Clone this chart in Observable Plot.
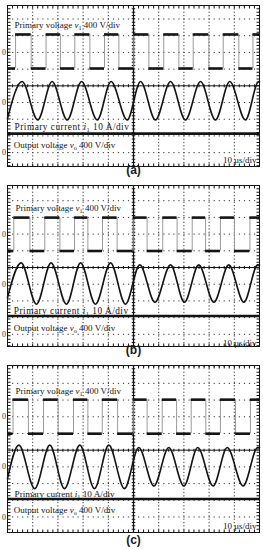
<!DOCTYPE html>
<html><head><meta charset="utf-8">
<script src="https://cdn.jsdelivr.net/npm/d3@7"></script>
<script src="https://cdn.jsdelivr.net/npm/@observablehq/plot@0.6"></script>
<style>
body{margin:0;background:#fff;width:263px;overflow:hidden;}
#chart svg{display:block;}
</style>
</head><body><div id="chart"></div>
<script>
// ---------- DATA ----------
const panelLabels = ["(a)", "(b)", "(c)"];
// time axis: 10 µs/div, 10 divisions
const timeDomain = [0, 100];
// primary voltage v1: switching instants (µs); the trace starts low
const vEdgesA = [3.2, 9.4, 15.3, 21.0, 26.7, 32.7, 38.5, 44.2, 50.1, 56.1, 62.0, 68.0, 73.7, 79.9, 85.6, 91.8, 97.4];
const vEdgesB = [2.5, 8.9, 14.8, 20.8, 26.6, 31.9, 37.7, 43.5, 49.9, 55.4, 61.6, 67.3, 73.3, 78.6, 84.5, 90.1, 96.2];
const vEdgesC = [2.2, 8.3, 14.3, 20.1, 26.2, 31.9, 37.6, 43.7, 49.9, 55.4, 61.4, 67.1, 72.9, 78.7, 84.5, 90.5, 96.4];
const vHigh = [430, 395, 410];   // V
const vLow = [-385, -405, -405]; // V
// primary current i1: extremes (µs, A)
const iTimesA = [0, 5.8, 12.0, 17.7, 23.7, 29.4, 35.6, 41.1, 47.5, 52.8, 58.7, 64.7, 70.6, 76.6, 82.5, 88.2, 94.4, 99.7, 100];
const iValsA = [-9.6, 12.6, -10.4, 12.6, -10.4, 12.6, -10.4, 12.6, -10.4, 12.6, -10.4, 12.6, -10.4, 12.6, -10.4, 12.6, -10.4, 12.6, 12.5];
const iTimesB = [0, 5.4, 11.5, 17.3, 23.4, 29.0, 34.9, 40.9, 46.8, 52.5, 58.5, 64.7, 70.2, 75.9, 81.9, 87.8, 93.8, 99.3, 100];
const iValsB = [-8, 12.8, -12.0, 12.8, -12.0, 12.8, -12.0, 12.8, -12.0, 11.6, -10.8, 11.6, -10.8, 11.6, -10.8, 11.6, -10.8, 11.6, 11.5];
const iTimesC = [0, 4.5, 10.8, 16.8, 22.6, 28.7, 34.5, 40.2, 46.4, 52.1, 58.1, 64.0, 70.0, 75.5, 81.6, 87.2, 93.5, 99.3, 100];
const iValsC = [-7, 13, -13, 13, -13, 13, -13, 13, -13, 11.6, -11.4, 11.6, -11.4, 11.6, -11.4, 11.6, -11.4, 11.6, 11.5];
// output voltage vo (V)
const voOut = [455, 440, 430];
// channel settings
const chZero = [2, -1, -4];      // ground markers (div) for v1, i1, vo
const voltsPerDiv = 400, ampsPerDiv = 10;
// texts
const labelTexts = ["Primary voltage v_1 400 V/div", "Primary current i_1 10 A/div", "Output voltage v_o 400 V/div", "10 μs/div"];

// ---------- LAYOUT ----------
const layout = [
  {yDomain: [-4.83, 4.81], height: 180, top: 5, bottom: 14, capDy: 7.5,
   lab: [[2.8, 3.62], [2.8, -2.45], [2.5, -3.56], [98.8, -4.46]], fs: [9, 9.3, 9, 9], ls: [0, 0.5, 0, 0]},
  {yDomain: [-4.73, 4.91], height: 180, top: 5, bottom: 14, capDy: 7.5,
   lab: [[3.2, 3.58], [2.5, -2.63], [2.5, -3.6], [98.8, -4.5]], fs: [9, 9.3, 9, 9], ls: [0, 0.5, 0, 0]},
  {yDomain: [-4.93, 5.07], height: 190, top: 5, bottom: 18, capDy: 11,
   lab: [[3.2, 3.52], [2.8, -2.62], [2.5, -3.58], [98.8, -4.56]], fs: [9, 9.2, 9, 9], ls: [0, 0, 0, 0]}
];
const vEdges = [vEdgesA, vEdgesB, vEdgesC];
const iTimes = [iTimesA, iTimesB, iTimesC];
const iVals = [iValsA, iValsB, iValsC];

const ink = "#141414";
const vy = v => chZero[0] + v / voltsPerDiv;
const iy = a => chZero[1] + a / ampsPerDiv;
const oy = v => chZero[2] + v / voltsPerDiv;

function styleLabels(svg, L) {
  d3.select(svg).selectAll("text").each(function() {
    const s = this.textContent;
    const k = labelTexts.indexOf(s);
    if (k >= 0 && L.ls[k]) this.setAttribute("letter-spacing", L.ls[k]);
    const m = s.match(/^(.*?)(\S)_(\S)(.*)$/);
    if (!m) return;
    const el = d3.select(this);
    el.selectAll("*").remove();
    el.text(null);
    el.append("tspan").text(m[1]);
    el.append("tspan").attr("font-style", "italic").text(m[2]);
    el.append("tspan").attr("font-size", "0.68em").attr("dy", "2").text(m[3]);
    el.append("tspan").attr("dy", "-2").text(m[4]);
  });
}

const root = document.getElementById("chart");
layout.forEach((L, p) => {
  const edges = vEdges[p];
  const bounds = [timeDomain[0], ...edges, timeDomain[1]];
  const segs = [];
  for (let k = 0; k < bounds.length - 1; k++) {
    segs.push({x1: bounds[k], x2: bounds[k + 1], v: k % 2 === 0 ? vLow[p] : vHigh[p]});
  }
  const cur = iTimes[p].map((t, k) => ({t, a: iVals[p][k]}));
  const [ylo, yhi] = L.yDomain;
  const gridY = d3.range(Math.ceil(ylo), Math.floor(yhi) + 1).filter(d => d !== 0 && d > ylo + 0.05 && d < yhi - 0.05);
  const gridX = [10, 20, 30, 40, 60, 70, 80, 90];
  const labs = labelTexts.map((text, k) => ({text, x: L.lab[k][0], y: L.lab[k][1], fs: L.fs[k], end: k === 3}));

  const svg = Plot.plot({
    width: 263, height: L.height,
    marginTop: L.top, marginBottom: L.bottom, marginLeft: 7, marginRight: 4,
    x: {domain: timeDomain, axis: null},
    y: {domain: L.yDomain, axis: null},
    style: {background: "#fff", fontFamily: "'Liberation Serif', serif", overflow: "visible"},
    marks: [
      // dotted graticule
      Plot.ruleY(gridY, {stroke: "#333", strokeWidth: 1, strokeDasharray: "1.2,3.84"}),
      Plot.ruleX(gridX, {stroke: "#333", strokeWidth: 1, strokeDasharray: "1.2,2.14"}),
      // centre lines with minor ticks
      Plot.ruleY([0], {stroke: ink, strokeWidth: 1}),
      Plot.ruleY([0], {stroke: ink, strokeWidth: 3, strokeDasharray: "1,4.04"}),
      Plot.ruleX([50], {stroke: ink, strokeWidth: 1.3}),
      Plot.ruleX([50], {stroke: ink, strokeWidth: 3.5, strokeDasharray: "1,2.34"}),
      // border ticks
      Plot.ruleY([yhi], {stroke: ink, strokeWidth: 3, dy: 1.5, strokeDasharray: "1,4.04"}),
      Plot.ruleY([ylo], {stroke: ink, strokeWidth: 3, dy: -1.5, strokeDasharray: "1,4.04"}),
      Plot.ruleX([timeDomain[0]], {stroke: ink, strokeWidth: 3, dx: 1.5, strokeDasharray: "1,2.34"}),
      Plot.ruleX([timeDomain[1]], {stroke: ink, strokeWidth: 3, dx: -1.5, strokeDasharray: "1,2.34"}),
      Plot.frame({stroke: ink, strokeWidth: 1}),
      // primary voltage: gray edges, thick flat parts
      Plot.ruleX(edges, {x: d => d, y1: vy(vLow[p]), y2: vy(vHigh[p]), stroke: "#9a9a9a", strokeWidth: 1}),
      Plot.ruleY(segs, {x1: "x1", x2: "x2", y: d => vy(d.v), stroke: ink, strokeWidth: 2.6}),
      // primary current
      Plot.line(cur, {x: "t", y: d => iy(d.a), curve: "monotone-x", stroke: ink, strokeWidth: 1.6}),
      // output voltage
      Plot.ruleY([voOut[p]], {y: d => oy(d), stroke: ink, strokeWidth: 2.6}),
      // ground markers
      Plot.text(chZero, {y: d => d, frameAnchor: "left", text: () => "0", textAnchor: "end", dx: -1.5, fontSize: 8, fill: "#333"}),
      // channel labels
      Plot.text(labs.filter(d => !d.end), {x: "x", y: "y", text: "text", textAnchor: "start", fontSize: "fs", fill: ink}),
      Plot.text(labs.filter(d => d.end), {x: "x", y: "y", text: "text", textAnchor: "end", fontSize: "fs", fill: ink}),
      // sub-figure caption
      Plot.text([panelLabels[p]], {frameAnchor: "bottom", dy: L.capDy, text: d => d, fontSize: 12, fontWeight: "bold", fontFamily: "'Liberation Sans', sans-serif", fill: "#1a1a1a"})
    ]
  });
  styleLabels(svg, L);
  root.appendChild(svg);
});
</script>
</body></html>
